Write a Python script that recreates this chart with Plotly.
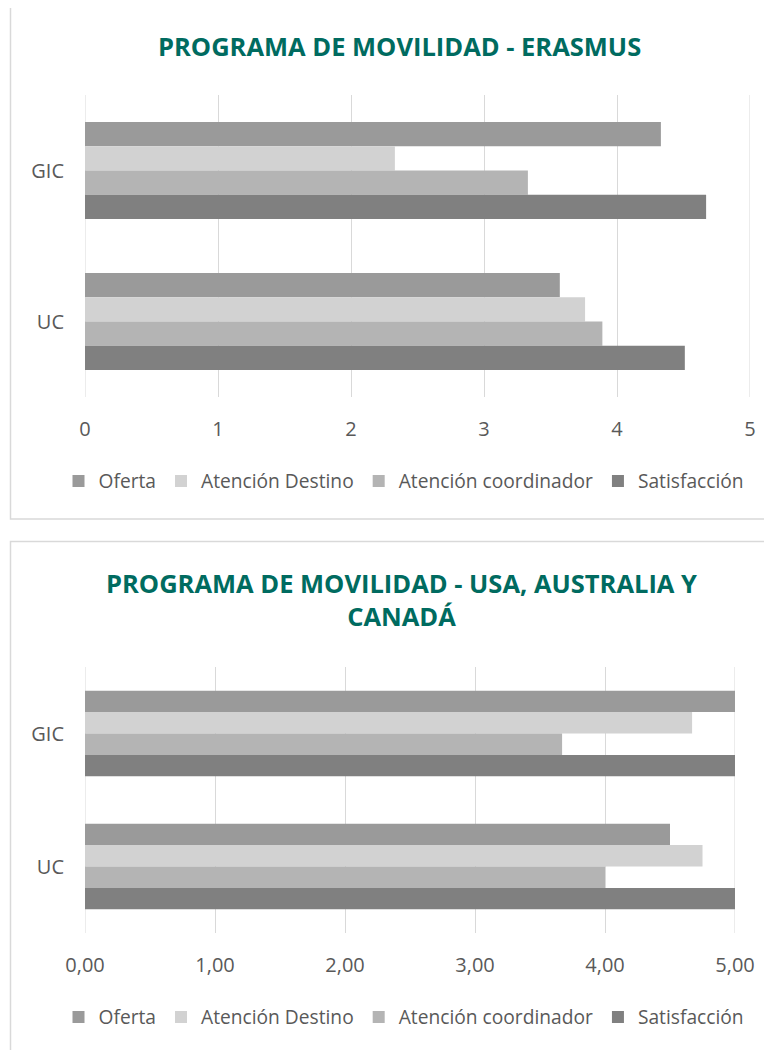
import plotly.graph_objects as go

# page body has an 8px margin; the figure is sized to fit the 772x1050 window
OFF = 8
W, H = 772 - OFF, 1050 - OFF

categories = ["GIC", "UC"]
series_names = ["Oferta", "Atención Destino", "Atención coordinador", "Satisfacción"]
series_colors = ["#9A9A9A", "#D2D2D2", "#B4B4B4", "#808080"]

erasmus_oferta = [4.33, 3.57]
erasmus_destino = [2.33, 3.76]
erasmus_coordinador = [3.33, 3.89]
erasmus_satisfaccion = [4.67, 4.51]

usa_oferta = [5.00, 4.50]
usa_destino = [4.67, 4.75]
usa_coordinador = [3.67, 4.00]
usa_satisfaccion = [5.00, 5.00]

x_ticks = [0, 1, 2, 3, 4, 5]
title1 = "PROGRAMA DE MOVILIDAD - ERASMUS"
title2 = "PROGRAMA DE MOVILIDAD - USA, AUSTRALIA Y<br>CANADÁ"

FONT = "Open Sans"
TXT = "#595959"
TITLE_C = "#006B60"
GRID = "#D9D9D9"
TICK_SIZE = 20
LEG_SIZE = 19.2
TITLE_SIZE = 25.5

fig = go.Figure()

erasmus = [erasmus_oferta, erasmus_destino, erasmus_coordinador, erasmus_satisfaccion]
usa = [usa_oferta, usa_destino, usa_coordinador, usa_satisfaccion]

for name, col, vals in zip(series_names, series_colors, erasmus):
    fig.add_trace(go.Bar(y=categories, x=vals, name=name, orientation="h",
                         marker=dict(color=col, line=dict(width=0)),
                         xaxis="x", yaxis="y", legend="legend"))
for name, col, vals in zip(series_names, series_colors, usa):
    fig.add_trace(go.Bar(y=categories, x=vals, name=name, orientation="h",
                         marker=dict(color=col, line=dict(width=0)),
                         xaxis="x2", yaxis="y2", legend="legend2"))

def px_x(v):
    return (v - OFF) / W

def px_y(v):
    return 1 - (v - OFF) / H

axis_common = dict(showgrid=True, gridcolor=GRID, gridwidth=1, zeroline=False,
                   showline=False, tickfont=dict(family=FONT, size=TICK_SIZE, color=TXT),
                   ticks="outside", tickcolor="rgba(0,0,0,0)", fixedrange=True)

yaxis_common = dict(autorange="reversed", showgrid=False, zeroline=False,
                    showline=False, ticks="outside", ticklen=16,
                    tickcolor="rgba(0,0,0,0)",
                    tickfont=dict(family=FONT, size=TICK_SIZE, color=TXT),
                    fixedrange=True)

legend_common = dict(orientation="h", xanchor="center", yanchor="middle",
                     font=dict(family=FONT, size=LEG_SIZE, color=TXT),
                     bgcolor="rgba(0,0,0,0)", itemwidth=30, traceorder="normal",
                     itemclick=False)

x_range = [x_ticks[0], x_ticks[-1]]

fig.update_layout(
    width=W, height=H,
    margin=dict(l=0, r=0, t=0, b=0, autoexpand=False),
    paper_bgcolor="white", plot_bgcolor="white",
    barmode="group", bargap=0.357, bargroupgap=0,
    separators=",.",
    xaxis=dict(domain=[px_x(85), px_x(750)], range=x_range, tickvals=x_ticks,
               tickformat="d", anchor="y", ticklen=14, **axis_common),
    yaxis=dict(domain=[px_y(397), px_y(95)], anchor="x", **yaxis_common),
    xaxis2=dict(domain=[px_x(85), px_x(735)], range=x_range, tickvals=x_ticks,
                tickformat=".2f", anchor="y2", ticklen=14, **axis_common),
    yaxis2=dict(domain=[px_y(933), px_y(667)], anchor="x2", **yaxis_common),
    legend=dict(x=px_x(404), y=px_y(481), **legend_common),
    legend2=dict(x=px_x(404), y=px_y(1017), **legend_common),
    showlegend=True,
)

# edge gridlines (plotly skips gridlines on the range ends)
for xr, yr in (("x", "y domain"), ("x2", "y2 domain")):
    for xv in (x_ticks[0], x_ticks[-1]):
        fig.add_shape(type="line", xref=xr, yref=yr, x0=xv, x1=xv, y0=0, y1=1,
                      line=dict(color=GRID, width=1), layer="below")

fig.add_annotation(text="<b>" + title1 + "</b>", xref="paper", yref="paper",
                   x=px_x(399), y=px_y(46), xanchor="center", yanchor="middle",
                   showarrow=False, font=dict(family=FONT, size=TITLE_SIZE, color=TITLE_C))
fig.add_annotation(text="<b>" + title2 + "</b>", xref="paper", yref="paper",
                   x=px_x(401), y=px_y(599), xanchor="center", yanchor="middle",
                   showarrow=False, font=dict(family=FONT, size=TITLE_SIZE, color=TITLE_C))

# chart area borders
fig.add_shape(type="rect", xref="paper", yref="paper",
              x0=px_x(10.5), x1=px_x(800), y0=px_y(519), y1=px_y(6.5),
              line=dict(color="#D9D9D9", width=1.5), fillcolor="rgba(0,0,0,0)", layer="below")
fig.add_shape(type="rect", xref="paper", yref="paper",
              x0=px_x(10.5), x1=px_x(800), y0=px_y(1080), y1=px_y(541.5),
              line=dict(color="#D9D9D9", width=1.5), fillcolor="rgba(0,0,0,0)", layer="below")

fig.write_html("out.html", config={"displayModeBar": False})
